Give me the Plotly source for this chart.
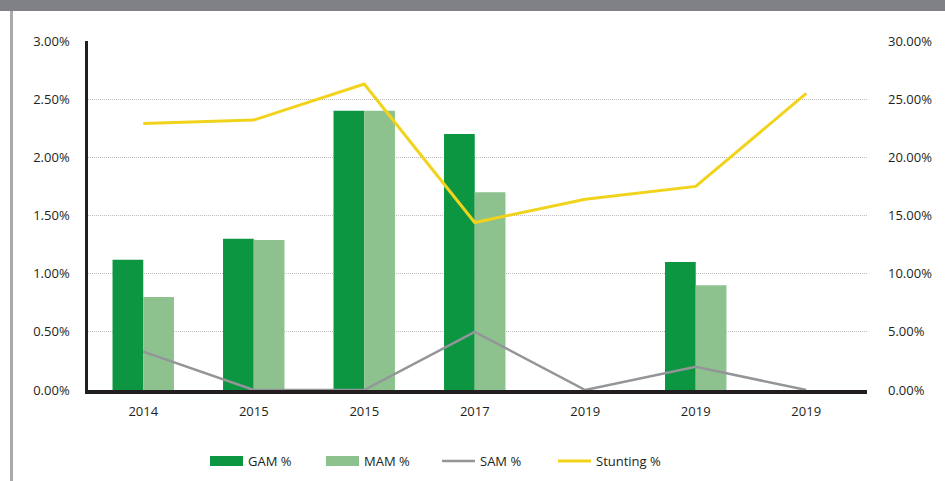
import plotly.graph_objects as go

categories = ["2014", "2015", "2015", "2017", "2019", "2019", "2019"]
gam = [1.12, 1.30, 2.40, 2.20, None, 1.10, None]
mam = [0.80, 1.29, 2.40, 1.70, None, 0.90, None]
sam = [0.33, 0.0, 0.0, 0.50, 0.0, 0.20, 0.0]
stunting = [22.9, 23.2, 26.3, 14.4, 16.4, 17.5, 25.5]

left_ticks = [0, 0.5, 1.0, 1.5, 2.0, 2.5, 3.0]
left_labels = ["0.00%", "0.50%", "1.00%", "1.50%", "2.00%", "2.50%", "3.00%"]
right_ticks = [0, 5, 10, 15, 20, 25, 30]
right_labels = ["0.00%", "5.00%", "10.00%", "15.00%", "20.00%", "25.00%", "30.00%"]

GAM_C = "#0c9642"
MAM_C = "#8dc28f"
SAM_C = "#939598"
STU_C = "#f2d31b"
TXT = "#231f20"
FONT = "Open Sans"

x = list(range(len(categories)))

fig = go.Figure()
fig.add_trace(go.Bar(x=x, y=gam, name="GAM %", marker=dict(color=GAM_C, line=dict(width=0)),
                     showlegend=False, yaxis="y"))
fig.add_trace(go.Bar(x=x, y=mam, name="MAM %", marker=dict(color=MAM_C, line=dict(width=0)),
                     showlegend=False, yaxis="y"))
# legend entries (wide swatches) for bar series
fig.add_trace(go.Scatter(x=[None], y=[None], mode="lines", name="GAM %",
                         line=dict(color=GAM_C, width=10), yaxis="y"))
fig.add_trace(go.Scatter(x=[None], y=[None], mode="lines", name="MAM %",
                         line=dict(color=MAM_C, width=10), yaxis="y"))
fig.add_trace(go.Scatter(x=x, y=sam, mode="lines", name="SAM %",
                         line=dict(color=SAM_C, width=2.5), yaxis="y", cliponaxis=False))
fig.add_trace(go.Scatter(x=x, y=stunting, mode="lines", name="Stunting %",
                         line=dict(color=STU_C, width=3), yaxis="y2"))

W, H = 945, 481
ml, mr, mt, mb = 88, 78, 41, 91
pw = W - ml - mr
ph = H - mt - mb

def px_x(p):
    return (p - ml) / pw

def px_y(p):
    return (H - mb - p) / ph

fig.update_layout(
    width=W, height=H, autosize=False,
    margin=dict(l=ml, r=mr, t=mt, b=mb, pad=0),
    paper_bgcolor="white", plot_bgcolor="white",
    font=dict(family=FONT, size=13, color=TXT),
    barmode="group", bargap=0.444, bargroupgap=0,
    xaxis=dict(
        range=[-0.5, 6.55], tickmode="array", tickvals=x, ticktext=categories,
        showgrid=False, zeroline=False, showline=True, linecolor=TXT, linewidth=3.5,
        ticks="", ticklabelstandoff=7, tickfont=dict(size=13, color=TXT),
        layer="above traces",
    ),
    yaxis=dict(
        range=[0, 3.0], tickmode="array", tickvals=left_ticks, ticktext=left_labels,
        showgrid=True, gridcolor="#bdbdbd", griddash="1px,1px", gridwidth=1,
        zeroline=False, showline=True, linecolor=TXT, linewidth=2.5,
        ticks="", ticklabelstandoff=13, tickfont=dict(size=13, color=TXT),
    ),
    yaxis2=dict(
        range=[0, 30], overlaying="y", side="right", tickmode="array",
        tickvals=right_ticks, ticktext=right_labels,
        showgrid=False, zeroline=False, showline=False,
        ticks="", ticklabelstandoff=20, tickfont=dict(size=13, color=TXT),
    ),
    legend=dict(
        orientation="h", xref="container", yref="container",
        x=205 / W, y=1 - 461 / H, xanchor="left", yanchor="middle",
        itemwidth=33, entrywidth=68, entrywidthmode="pixels",
        font=dict(size=13, color=TXT), bgcolor="rgba(0,0,0,0)",
        traceorder="normal",
    ),
    shapes=[
        dict(type="rect", xref="paper", yref="paper",
             x0=px_x(0), x1=px_x(W), y0=px_y(11), y1=px_y(0),
             fillcolor="#808184", line=dict(width=0), layer="above"),
        dict(type="line", xref="paper", yref="paper",
             x0=px_x(11.5), x1=px_x(11.5), y0=px_y(11), y1=px_y(H),
             line=dict(color="#a7a9ac", width=3)),
    ],
)

fig.write_html("out.html", config={"displayModeBar": False},
               post_script="document.body.style.margin='0';document.body.style.overflow='hidden';")
